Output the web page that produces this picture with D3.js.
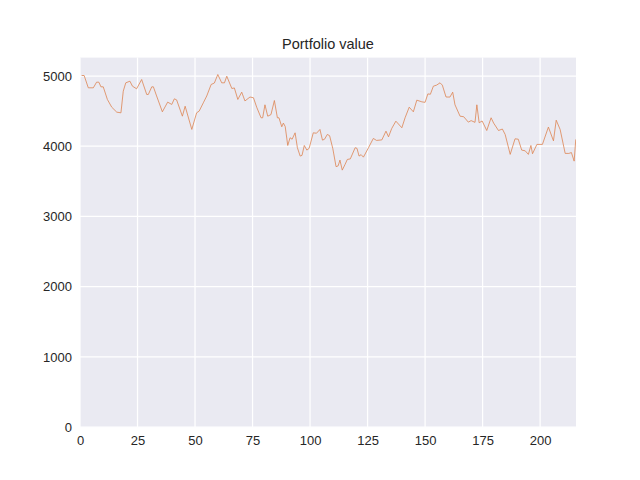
<!DOCTYPE html>
<html><head><meta charset="utf-8">
<script src="https://cdn.jsdelivr.net/npm/d3@7"></script>
<style>body{margin:0;background:#fff}</style></head>
<body><svg id="c" width="640" height="480"></svg>
<script>
const steps = [0.7,1.8,3.6,5.8,7.2,8.2,9.1,10.1,11.9,13.8,16,17.8,18.8,19.9,21.7,22.8,24.6,26.8,29,29.7,31.2,31.9,33.3,35.8,38.1,39.9,41,42,44.5,45.7,48.6,50.7,51.8,53.6,55.1,57,58.4,59.9,61.6,62.8,63.8,66,67.1,68.6,70.3,71.7,73.9,75.4,76.8,78.7,79.4,80.4,81.6,83,84.5,85.8,86.5,87.7,88.4,89.2,90.3,91.3,92.2,93.5,94.5,95.7,96.5,97.5,98.6,99.6,101.4,102.8,104.3,105.4,106.3,107.5,108.5,109.9,111.3,112.2,113,114,115.2,116.2,117.5,119.6,120.4,121.3,122.2,123.2,125.4,127.5,128.9,131.2,133,134.1,135.5,137.3,139.9,141.3,143.1,144.9,146.4,148.6,150,151.2,152.3,153.6,155,156.5,157.5,159.1,160.8,162,163,165.2,166.8,168.8,170,171.7,172.5,173.5,174.8,176.8,178.7,179.8,181.9,183.6,184.8,187,189.1,190.5,192,193.5,194.9,196,196.7,198.6,201,203.6,205.8,207,208.7,210.9,212.5,213.6,214.8,215.5];
const values = [5007,5007,4832,4832,4912,4912,4846,4846,4666,4556,4485,4476,4784,4903,4926,4855,4818,4950,4737,4737,4846,4846,4716,4490,4628,4595,4675,4660,4428,4570,4239,4476,4500,4618,4716,4879,4900,5021,4903,4903,4997,4822,4830,4666,4770,4645,4701,4690,4556,4405,4405,4590,4428,4450,4651,4405,4405,4277,4330,4280,4011,4121,4100,4191,3979,3860,3870,4011,3945,3970,4191,4185,4239,4087,4100,4168,4150,3965,3709,3720,3803,3660,3740,3812,3820,3979,3970,3860,3880,3845,3979,4111,4083,4090,4215,4134,4253,4357,4263,4405,4556,4490,4656,4632,4625,4745,4740,4855,4870,4903,4870,4701,4700,4770,4590,4428,4420,4343,4365,4340,4590,4334,4360,4224,4405,4330,4224,4245,4168,3884,4106,4100,3945,3935,3884,4011,3893,4026,4026,4273,4077,4371,4239,3898,3898,3910,3788,4097];
const xTicks = [0,25,50,75,100,125,150,175,200];
const yTicks = [0,1000,2000,3000,4000,5000];

const svg = d3.select('#c');
const L=80,R=576,T=57.6,B=427.2;
const x = d3.scaleLinear().domain([0,215.6]).range([L,R]);
const y = d3.scaleLinear().domain([0,5262]).range([B,T]);
svg.append('rect').attr('x',L).attr('y',T).attr('width',R-L).attr('height',B-T).attr('fill','#eaeaf2');
const g = svg.append('g');
g.selectAll('.gx').data(xTicks).join('line').attr('x1',d=>x(d)).attr('x2',d=>x(d)).attr('y1',T).attr('y2',B).attr('stroke','#fff').attr('stroke-width',1.25);
g.selectAll('.gy').data(yTicks).join('line').attr('y1',d=>y(d)).attr('y2',d=>y(d)).attr('x1',L).attr('x2',R).attr('stroke','#fff').attr('stroke-width',1.25);
const font = '"Liberation Sans", Arial, sans-serif';
svg.append('g').attr('transform',`translate(0,${B})`).call(d3.axisBottom(x).tickValues(xTicks).tickSize(0).tickPadding(9).tickFormat(d3.format('d')))
  .call(a=>{a.select('.domain').remove();a.selectAll('text').attr('font-size',13).attr('font-family',font).attr('fill','#262626');});
svg.append('g').attr('transform',`translate(${L},0)`).call(d3.axisLeft(y).tickValues(yTicks).tickSize(0).tickPadding(8).tickFormat(d3.format('d')))
  .call(a=>{a.select('.domain').remove();a.selectAll('text').attr('font-size',13).attr('font-family',font).attr('fill','#262626');});
const data = steps.map((s,i)=>[s,values[i]]);
svg.append('defs').append('clipPath').attr('id','cp').append('rect').attr('x',L).attr('y',T).attr('width',R-L).attr('height',B-T);
svg.append('path').datum(data).attr('clip-path','url(#cp)').attr('fill','none').attr('stroke','#dd8452').attr('stroke-width',0.8)
  .attr('d',d3.line().x(d=>x(d[0])).y(d=>y(d[1])));
svg.append('text').attr('x',(L+R)/2).attr('y',49).attr('text-anchor','middle').attr('font-family',font).attr('font-size',14.5).attr('fill','#262626').text('Portfolio value');
</script></body></html>
